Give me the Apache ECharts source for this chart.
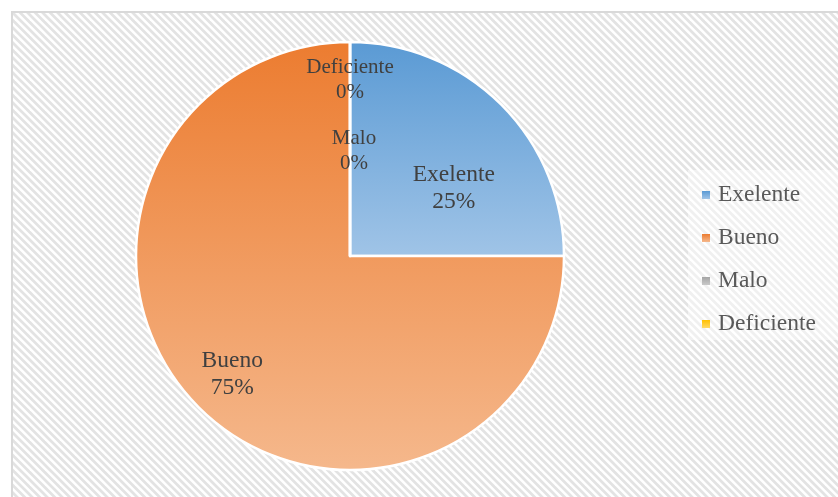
<!DOCTYPE html>
<html>
<head>
<meta charset="utf-8">
<script src="https://cdn.jsdelivr.net/npm/echarts@6/dist/echarts.min.js"></script>
<style>
  html, body { margin: 0; padding: 0; background: #ffffff; }
  #chart { width: 838px; height: 497px; }
</style>
</head>
<body>
<div id="chart"></div>
<script>
// Survey results: share of answers per rating
const categories = ['Exelente', 'Bueno', 'Malo', 'Deficiente'];
const values = [25, 75, 0, 0];

// Slice fills: top and bottom stops of each vertical gradient
const topColors = ['#5a9ad4', '#ec7c30', '#a5a5a5', '#ffc000'];
const bottomColors = ['#a0c4e7', '#f5b88c', '#c9c9c9', '#ffd966'];

// Label nudges from the default inside position
const labelOffsets = [[26, 10], [-40, 41], [4, 5], [0, -66]];
const labelSizes = [23.5, 23.5, 21, 21];
const labelLineHeights = [27, 27, 25, 25];

// Diagonal hatch tile for the plot background
function hatchTile() {
  const size = 15;
  const c = document.createElement('canvas');
  c.width = size; c.height = size;
  const ctx = c.getContext('2d');
  ctx.fillStyle = '#ffffff';
  ctx.fillRect(0, 0, size, size);
  ctx.strokeStyle = '#e3e3e3';
  ctx.lineWidth = 2.7;
  for (let k = -15; k <= 15; k += 7.5) {
    ctx.beginPath();
    ctx.moveTo(k - 2, -2);
    ctx.lineTo(k + size + 2, size + 2);
    ctx.stroke();
  }
  return c;
}

const chart = echarts.init(document.getElementById('chart'), null, { renderer: 'canvas' });

const gradientFor = (i) => new echarts.graphic.LinearGradient(0, 0, 0, 1, [
  { offset: 0, color: topColors[i] },
  { offset: 1, color: bottomColors[i] }
]);

const data = categories.map((name, i) => ({
  name: name,
  value: values[i],
  itemStyle: { color: gradientFor(i) },
  label: {
    offset: labelOffsets[i],
    fontSize: labelSizes[i],
    lineHeight: labelLineHeights[i]
  }
}));

chart.setOption({
  animation: false,
  backgroundColor: '#ffffff',
  graphic: [{
    type: 'rect',
    z: -10,
    silent: true,
    shape: { x: 12, y: 12, width: 840, height: 500 },
    style: {
      fill: { image: hatchTile(), repeat: 'repeat' },
      stroke: '#d9d9d9',
      lineWidth: 2
    }
  }, {
    type: 'rect',
    z: -9,
    silent: true,
    shape: { x: 688, y: 170, width: 150, height: 170 },
    style: { fill: 'rgba(255,255,255,0.45)' }
  }],
  legend: {
    orient: 'vertical',
    left: 702,
    top: 183,
    padding: 0,
    itemWidth: 8,
    itemHeight: 8,
    itemGap: 19,
    icon: 'rect',
    data: categories.map((name, i) => ({
      name: name,
      itemStyle: { color: gradientFor(i), borderWidth: 0 }
    })),
    textStyle: {
      fontFamily: 'Liberation Serif',
      fontSize: 23.5,
      lineHeight: 23.5,
      color: '#595959',
      padding: [0, 0, 0, 3]
    }
  },
  series: [{
    type: 'pie',
    center: [350, 256],
    radius: [0, 214],
    startAngle: 90,
    clockwise: true,
    minAngle: 0,
    avoidLabelOverlap: false,
    stillShowZeroSum: true,
    itemStyle: {
      borderColor: '#ffffff',
      borderWidth: 2.5
    },
    label: {
      show: true,
      position: 'inside',
      formatter: '{b}\n{d}%',
      fontFamily: 'Liberation Serif',
      color: '#404040',
      align: 'center'
    },
    labelLine: { show: false },
    emphasis: { disabled: true },
    data: data
  }]
});
</script>
</body>
</html>
